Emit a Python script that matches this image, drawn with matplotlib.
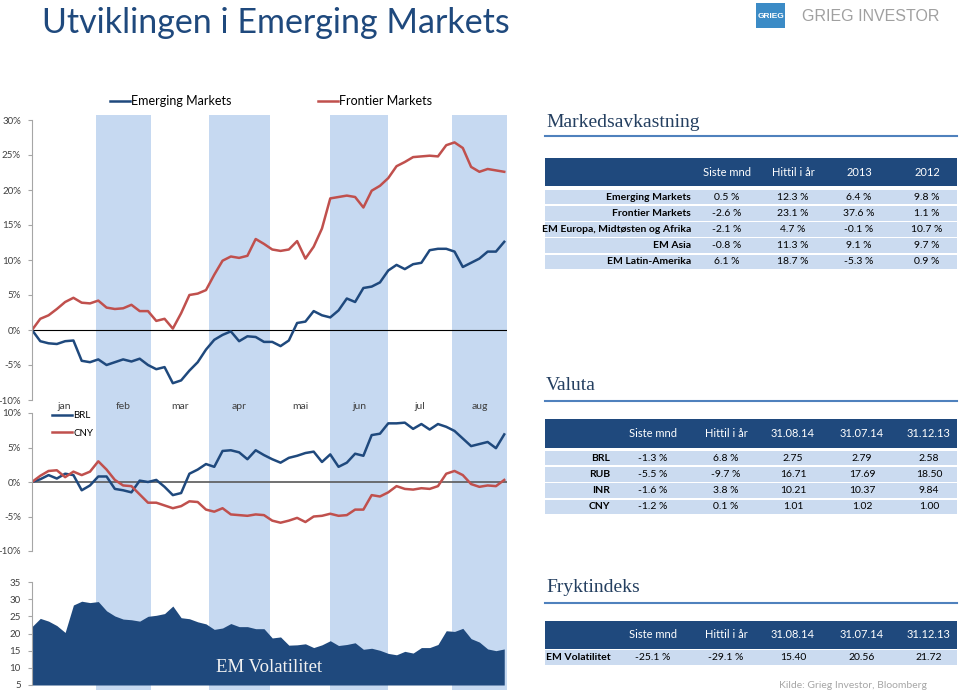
import matplotlib.pyplot as plt
import numpy as np
import pandas as pd
from matplotlib.patches import Rectangle

plt.rcParams['font.family'] = ['Lato', 'DejaVu Sans']

W, H = 960, 691

days = pd.bdate_range("2014-01-01", "2014-08-29")
x = np.arange(0, len(days), 3)

em = [0, -1.6, -1.9, -2.0, -1.6, -1.5, -4.4, -4.6, -4.2, -5.0, -4.6, -4.2, -4.5, -4.1, -5.0,
      -5.6, -5.3, -7.6, -7.2, -5.8, -4.6, -2.8, -1.4, -0.7, -0.2, -1.6, -0.9, -1.0, -1.7, -1.7,
      -2.3, -1.5, 1.0, 1.2, 2.7, 2.1, 1.8, 2.8, 4.5, 4.0, 6.0, 6.2, 6.8, 8.5, 9.3, 8.7, 9.4,
      9.6, 11.4, 11.6, 11.6, 11.2, 9.0, 9.6, 10.2, 11.2, 11.2, 12.6]
fm = [0, 1.6, 2.1, 3.0, 4.0, 4.6, 3.9, 3.8, 4.2, 3.2, 3.0, 3.1, 3.6, 2.7, 2.7, 1.3, 1.6, 0.2,
      2.4, 5.0, 5.2, 5.7, 7.9, 9.9, 10.5, 10.3, 10.6, 13.0, 12.3, 11.5, 11.3, 11.5, 12.7, 10.2,
      11.9, 14.5, 18.8, 19.0, 19.2, 19.0, 17.5, 19.9, 20.6, 21.7, 23.4, 24.0, 24.7, 24.8, 24.9,
      24.8, 26.4, 26.8, 26.0, 23.3, 22.6, 23.0, 22.8, 22.6]
brl = [0, 0.4, 1.0, 0.5, 1.2, 1.0, -1.2, -0.5, 0.8, 0.8, -1.0, -1.2, -1.5, 0.2, 0.0, 0.3,
       -0.7, -1.9, -1.6, 1.2, 1.8, 2.6, 2.2, 4.5, 4.6, 4.3, 3.3, 4.6, 3.9, 3.3, 2.8, 3.5, 3.8,
       4.2, 4.4, 2.9, 4.0, 2.2, 2.8, 4.1, 3.8, 6.8, 7.0, 8.5, 8.5, 8.6, 7.7, 8.4, 7.6, 8.4,
       8.0, 7.4, 6.3, 5.2, 5.5, 5.8, 4.9, 6.9]
cny = [0, 0.9, 1.6, 1.7, 0.7, 1.5, 1.0, 1.5, 3.0, 1.8, 0.3, -0.5, -0.6, -1.8, -3.0, -3.0,
       -3.4, -3.8, -3.5, -2.8, -2.9, -4.0, -4.3, -3.8, -4.7, -4.8, -4.9, -4.7, -4.8, -5.6,
       -5.9, -5.6, -5.2, -5.8, -5.0, -4.9, -4.6, -4.9, -4.8, -4.0, -4.0, -1.9, -2.1, -1.5,
       -0.6, -1.0, -1.1, -0.9, -1.0, -0.6, 1.2, 1.6, 1.0, -0.3, -0.7, -0.5, -0.6, 0.3]
vol = [22.0, 24.4, 23.6, 22.3, 20.3, 28.3, 29.4, 29.0, 29.3, 26.6, 25.1, 24.2, 24.0, 23.6,
       25.0, 25.3, 25.8, 28.0, 24.6, 24.3, 23.4, 22.8, 21.2, 21.6, 22.9, 22.0, 22.0, 21.4,
       21.4, 18.7, 19.0, 16.6, 16.7, 17.0, 15.9, 16.7, 17.9, 16.5, 16.8, 17.3, 15.4, 15.7,
       15.1, 14.2, 13.8, 14.8, 14.3, 15.9, 15.9, 16.8, 20.8, 20.6, 21.5, 18.5, 17.5, 15.5,
       15.0, 15.5]

month_names = ["jan", "feb", "mar", "apr", "mai", "jun", "jul", "aug"]

mkt_cols = ["Siste mnd", "Hittil i år", "2013", "2012"]
mkt_rows = ["Emerging Markets", "Frontier Markets", "EM Europa, Midtøsten og Afrika",
            "EM Asia", "EM Latin-Amerika"]
mkt_vals = [["0.5 %", "12.3 %", "6.4 %", "9.8 %"],
            ["-2.6 %", "23.1 %", "37.6 %", "1.1 %"],
            ["-2.1 %", "4.7 %", "-0.1 %", "10.7 %"],
            ["-0.8 %", "11.3 %", "9.1 %", "9.7 %"],
            ["6.1 %", "18.7 %", "-5.3 %", "0.9 %"]]

fx_cols = ["Siste mnd", "Hittil i år", "31.08.14", "31.07.14", "31.12.13"]
fx_rows = ["BRL", "RUB", "INR", "CNY"]
fx_vals = [["-1.3 %", "6.8 %", "2.75", "2.79", "2.58"],
           ["-5.5 %", "-9.7 %", "16.71", "17.69", "18.50"],
           ["-1.6 %", "3.8 %", "10.21", "10.37", "9.84"],
           ["-1.2 %", "0.1 %", "1.01", "1.02", "1.00"]]

fear_rows = ["EM Volatilitet"]
fear_vals = [["-25.1 %", "-29.1 %", "15.40", "20.56", "21.72"]]

navy = "#1F497D"
red = "#C0504D"
band = "#C6D9F1"
rowbg = "#CBDBF0"
txt = "#404040"

fig = plt.figure(figsize=(9.6, 6.91), dpi=100)


def px_axes(left, top, right, bottom):
    return fig.add_axes([left / W, 1 - bottom / H, (right - left) / W, (bottom - top) / H])


xmax = len(days) - 1
starts = [int(np.argmax(days.month == m)) for m in range(1, 9)] + [xmax]

# month bands behind all three charts
bg = px_axes(32, 115, 507, 690)
bg.set_xlim(0, xmax)
bg.set_ylim(0, 1)
bg.axis("off")
for i in range(1, 8, 2):
    bg.axvspan(starts[i], starts[i + 1], color=band, lw=0)


def style(ax, ticks, fmt):
    ax.set_xlim(0, xmax)
    ax.patch.set_alpha(0)
    for s in ["top", "right", "bottom"]:
        ax.spines[s].set_visible(False)
    ax.spines["left"].set_color("#A6A6A6")
    ax.set_xticks([])
    ax.set_yticks(ticks)
    ax.set_yticklabels([fmt % t for t in ticks])
    ax.tick_params(axis="y", length=3, color="#A6A6A6", labelsize=7, labelcolor=txt, pad=5)


# market returns
ax1 = px_axes(32, 120, 507, 400)
style(ax1, range(-10, 31, 5), "%d%%")
ax1.set_ylim(-10, 30)
ax1.axhline(0, color="black", lw=0.8)
l_em, = ax1.plot(x, em, color=navy, lw=1.8)
l_fm, = ax1.plot(x, fm, color=red, lw=1.8)
leg1 = ax1.legend([l_em], ["Emerging Markets"], loc="center left",
                  bbox_to_anchor=(110 / W, 1 - 101 / H), bbox_transform=fig.transFigure,
                  frameon=False, borderpad=0, borderaxespad=0, handlelength=1.6,
                  handletextpad=0.1, fontsize=9)
ax1.add_artist(leg1)
ax1.legend([l_fm], ["Frontier Markets"], loc="center left",
           bbox_to_anchor=(318 / W, 1 - 101 / H), bbox_transform=fig.transFigure,
           frameon=False, borderpad=0, borderaxespad=0, handlelength=1.6,
           handletextpad=0.1, fontsize=9)

# currencies
ax2 = px_axes(32, 413, 507, 551)
style(ax2, range(-10, 11, 5), "%d%%")
ax2.set_ylim(-10, 10)
ax2.axhline(0, color="#595959", lw=1.2)
ax2.plot(x, brl, color=navy, lw=1.8, label="BRL")
ax2.plot(x, cny, color=red, lw=1.8, label="CNY")
ax2.legend(loc="upper left", bbox_to_anchor=(52 / W, 1 - 411 / H),
           bbox_transform=fig.transFigure, frameon=False, borderpad=0, borderaxespad=0,
           handlelength=2.1, handletextpad=0.1, fontsize=7, labelspacing=0.9)
for i, name in enumerate(month_names):
    ax2.text((starts[i] + starts[i + 1]) / 2, 1.045, name, transform=ax2.get_xaxis_transform(),
             ha="center", va="center", fontsize=7.5, color=txt)

# volatility
ax3 = px_axes(32, 582, 507, 685)
style(ax3, range(5, 36, 5), "%d")
ax3.set_ylim(5, 35)
ax3.fill_between(x, vol, 5, color=navy, lw=0)
ax3.text(0.5, 0.17, "EM Volatilitet", transform=ax3.transAxes, ha="center", va="center",
         fontsize=13.5, color="#F2F2F2", family="Liberation Serif")

# overlay in pixel coordinates for title, logo and tables
ov = fig.add_axes([0, 0, 1, 1])
ov.set_xlim(0, W)
ov.set_ylim(H, 0)
ov.axis("off")
ov.patch.set_alpha(0)

ov.text(42, 33, "Utviklingen i Emerging Markets", fontsize=24.5, color=navy,
        ha="left", va="baseline")
ov.add_patch(Rectangle((756, 3), 29, 25, color="#3B8BC6", lw=0))
ov.text(770.5, 16, "GRIEG", fontsize=6, color="white", ha="center", va="center",
        family="Liberation Sans", weight="bold")
ov.text(802, 16, "GRIEG INVESTOR", fontsize=11.5, color="#A0A0A0", ha="left", va="center",
        family="Liberation Sans")


def table(title, title_y, line_y, head_top, head_bot, cols, col_x, rows, vals,
          label_x, label_ha, row_y0, row_step):
    ov.text(546, title_y, title, fontsize=14, color="#243F60", ha="left", va="center",
            family="Liberation Serif")
    ov.plot([545, 957], [line_y, line_y], color="#4F81BD", lw=1.5)
    ov.add_patch(Rectangle((545, head_top), 412, head_bot - head_top, color=navy, lw=0))
    hy = (head_top + head_bot) / 2
    for c, cx in zip(cols, col_x):
        ov.text(cx, hy, c, fontsize=8, color="white", ha="center", va="center")
    for r, (name, row) in enumerate(zip(rows, vals)):
        ry = row_y0 + r * row_step
        ov.add_patch(Rectangle((545, ry - 7.3), 412, 14.6, color=rowbg, lw=0))
        ov.text(label_x, ry, name, fontsize=7.5, weight="bold", color="black",
                ha=label_ha, va="center")
        for v, cx in zip(row, col_x):
            ov.text(cx, ry, v, fontsize=7.5, color="black", ha="center", va="center")


table("Markedsavkastning", 122, 136, 158, 186, mkt_cols, [727, 793, 859, 927],
      mkt_rows, mkt_vals, 691, "right", 197, 16.2)
table("Valuta", 385, 401, 419, 448, fx_cols, [653, 726, 793, 862, 929],
      fx_rows, fx_vals, 610, "right", 458, 16.3)
table("Fryktindeks", 588, 603, 621, 649, fx_cols, [653, 726, 793, 862, 929],
      fear_rows, fear_vals, 546, "left", 657.5, 16.3)
ov.text(853, 686, "Kilde: Grieg Investor, Bloomberg", fontsize=7.5, color="#A6A6A6",
        ha="center", va="center")

fig.savefig("out.png", dpi=100)
